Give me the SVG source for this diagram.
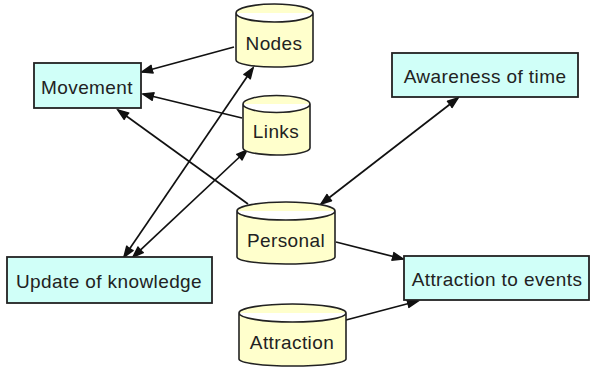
<svg xmlns="http://www.w3.org/2000/svg" width="590" height="367" viewBox="0 0 590 367">
<style>
.box{fill:#d0fff8;stroke:#222;stroke-width:1.8}
.cyl{fill:#ffffcc;stroke:#222;stroke-width:1.6}
.lbl{font-family:"Liberation Sans",Arial,sans-serif;font-size:19px;fill:#222;text-anchor:middle;letter-spacing:0.4px}
.edge{stroke:#111;stroke-width:1.7;fill:none}
</style>
<defs>
<marker id="ah" markerWidth="14" markerHeight="10" refX="12" refY="5" orient="auto-start-reverse" markerUnits="userSpaceOnUse">
<path d="M1,1 L12,5 L1,9 M12,5 L6,4 L6,6 Z" fill="#111" stroke="#111" stroke-width="1.6" stroke-linejoin="miter"/>
</marker>
</defs>
<rect width="590" height="367" fill="#fff"/>
<g id="connectors">
<line class="edge" x1="234" y1="47" x2="142" y2="72" marker-end="url(#ah)"/>
<line class="edge" x1="242" y1="118" x2="143" y2="94" marker-end="url(#ah)"/>
<line class="edge" x1="248" y1="204" x2="118" y2="110" marker-end="url(#ah)"/>
<line class="edge" x1="124" y1="257" x2="253" y2="68" marker-start="url(#ah)" marker-end="url(#ah)"/>
<line class="edge" x1="133" y1="257" x2="247" y2="150" marker-start="url(#ah)" marker-end="url(#ah)"/>
<line class="edge" x1="321" y1="204" x2="458" y2="98" marker-start="url(#ah)" marker-end="url(#ah)"/>
<line class="edge" x1="336" y1="242" x2="403" y2="259" marker-end="url(#ah)"/>
<line class="edge" x1="346" y1="320" x2="418" y2="301" marker-end="url(#ah)"/>
</g>
<g id="movement">
<rect class="box" x="34" y="63" width="107" height="45"/>
<text class="lbl" x="87" y="94">Movement</text>
</g>
<g id="update">
<rect class="box" x="7" y="257" width="205" height="46"/>
<text class="lbl" x="109" y="288">Update of knowledge</text>
</g>
<g id="awareness">
<rect class="box" x="392" y="53" width="186" height="44"/>
<text class="lbl" x="485" y="83">Awareness of time</text>
</g>
<g id="events">
<rect class="box" x="404" y="256" width="185" height="44"/>
<text class="lbl" x="497" y="286">Attraction to events</text>
</g>
<g id="nodes">
<path class="cyl" d="M236,13 A38.5,9 0 0 1 313,13 L313,60 A38.5,7 0 0 1 236,60 Z M236,13 A38.5,9 0 0 0 313,13"/>
<text class="lbl" x="274" y="50">Nodes</text>
</g>
<g id="links">
<path class="cyl" d="M243,104 A33.5,8.5 0 0 1 310,104 L310,148 A33.5,7 0 0 1 243,148 Z M243,104 A33.5,8.5 0 0 0 310,104"/>
<text class="lbl" x="276" y="138">Links</text>
</g>
<g id="personal">
<path class="cyl" d="M237,211 A49,9 0 0 1 335,211 L335,257 A49,7 0 0 1 237,257 Z M237,211 A49,9 0 0 0 335,211"/>
<text class="lbl" x="286" y="247">Personal</text>
</g>
<g id="attraction">
<path class="cyl" d="M239,313 A53.5,9 0 0 1 346,313 L346,359 A53.5,7 0 0 1 239,359 Z M239,313 A53.5,9 0 0 0 346,313"/>
<text class="lbl" x="292" y="349">Attraction</text>
</g>
</svg>
